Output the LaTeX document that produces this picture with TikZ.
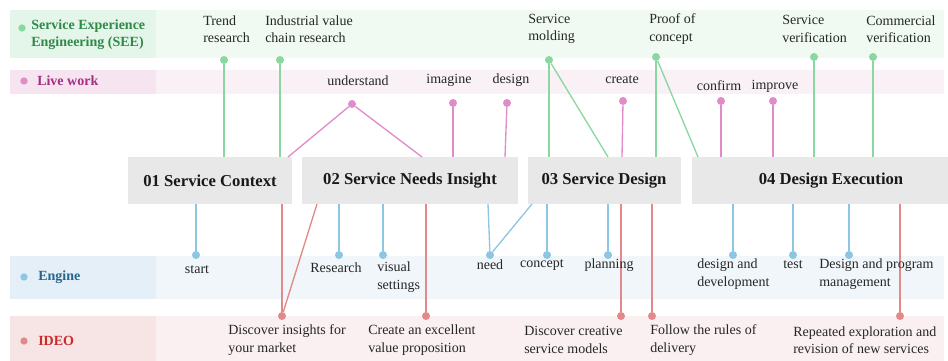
\documentclass[tikz,border=0pt]{standalone}
\usepackage{fontspec}
\setmainfont{Liberation Serif}
\definecolor{seeL}{HTML}{88D8A0}
\definecolor{liveL}{HTML}{E08CC8}
\definecolor{engL}{HTML}{8CC6E2}
\definecolor{ideoL}{HTML}{E28A8A}
\definecolor{seeA}{HTML}{E4F5EA}\definecolor{seeB}{HTML}{F0FAF3}
\definecolor{liveA}{HTML}{F6E4F0}\definecolor{liveB}{HTML}{FAF1F7}
\definecolor{engA}{HTML}{E4EFF8}\definecolor{engB}{HTML}{F0F6FA}
\definecolor{ideoA}{HTML}{F7E4E5}\definecolor{ideoB}{HTML}{FAF0F1}
\definecolor{seeT}{HTML}{2F8A48}
\definecolor{liveT}{HTML}{A82C84}
\definecolor{engT}{HTML}{24668C}
\definecolor{ideoT}{HTML}{CC2B2B}
\definecolor{boxF}{HTML}{E8E8E8}
\begin{document}
\begin{tikzpicture}[x=0.75pt,y=-0.75pt,
  txt/.style={inner sep=0pt,font=\fontsize{10.5}{13}\selectfont,text=black!85,align=left},
  lab/.style={inner sep=0pt,font=\fontsize{10.5}{13}\selectfont\bfseries,align=left,anchor=west},
  stage/.style={fill=boxF,draw=none},
  stagetxt/.style={inner sep=0pt,font=\fontsize{12.5}{15}\selectfont\bfseries,text=black!90},
  dotn/.style={circle,inner sep=0pt,minimum size=6pt},
  conn/.style={line width=1pt}]
\useasboundingbox (0,0) rectangle (948,360);
% bands
\fill[seeA] (10,10) rectangle (156,58); \fill[seeB] (156,10) rectangle (944,58);
\fill[liveA] (10,70) rectangle (156,94); \fill[liveB] (156,70) rectangle (944,94);
\fill[engA] (10,256) rectangle (156,299); \fill[engB] (156,256) rectangle (944,299);
\fill[ideoA] (10,316) rectangle (156,362); \fill[ideoB] (156,316) rectangle (944,362);
% row labels
\node[dotn,fill=seeL,minimum size=5.5pt] (dsee) at (22,28) {};
\node[lab,text=seeT] (lsee) at (31,34.5) {Service Experience\\Engineering (SEE)};
\node[dotn,fill=liveL,minimum size=5.5pt] (dlive) at (24,81) {};
\node[lab,text=liveT] (llive) at (37,81) {Live work};
\node[dotn,fill=engL,minimum size=5.5pt] (deng) at (24,277) {};
\node[lab,text=engT] (leng) at (38,277) {Engine};
\node[dotn,fill=ideoL,minimum size=5.5pt] (dideo) at (24,341) {};
\node[lab,text=ideoT] (lideo) at (38,341) {IDEO};
% stage boxes
\fill[stage] (128,157) rectangle (292,204);
\fill[stage] (302,157) rectangle (518,204);
\fill[stage] (528,157) rectangle (681,204);
\fill[stage] (692,157) rectangle (948,204);
\node[stagetxt] (s1) at (210,181) {01 Service Context};
\node[stagetxt] (s2) at (410,181) {02 Service Needs Insight};
\node[stagetxt] (s3) at (604,181) {03 Service Design};
\node[stagetxt] (s4) at (831,181) {04 Design Execution};
% coordinates on box edges
\foreach \n/\x in {a1/224,a2/280,a3/549,a4/608,a5/656,a6/698,a7/814,a8/873,
  p1/288,p2/422,p3/453,p4/505,p5/622,p6/721,p7/773}{\coordinate (t\n) at (\x,157);}
\foreach \n/\x in {e1/196,e2/339,e3/383,e4/488,e5/532,e6/547,e7/608,e8/733,e9/793,e10/849,
  r1/282,r2/317,r3/426,r4/621,r5/652,r6/900}{\coordinate (b\n) at (\x,204);}
% SEE dots
\foreach \n/\x/\y in {a1/224/60,a2/280/60,a3/549/60,a5/656/57,a7/814/57,a8/873/57}{\node[dotn,fill=seeL] (g\n) at (\x,\y) {};}
\draw[conn,seeL] (ga1) -- (ta1);
\draw[conn,seeL] (ga2) -- (ta2);
\draw[conn,seeL] (ga3) -- (ta3);
\draw[conn,seeL] (ga3) -- (ta4);
\draw[conn,seeL] (ga5) -- (ta5);
\draw[conn,seeL] (ga5) -- (ta6);
\draw[conn,seeL] (ga7) -- (ta7);
\draw[conn,seeL] (ga8) -- (ta8);
% Live work dots
\node[dotn,fill=liveL] (lu) at (352,104) {};
\node[dotn,fill=liveL] (li) at (453,103) {};
\node[dotn,fill=liveL] (ld) at (507,103) {};
\node[dotn,fill=liveL] (lc) at (623,101) {};
\node[dotn,fill=liveL] (lf) at (721,101) {};
\node[dotn,fill=liveL] (lm) at (773,101) {};
\draw[conn,liveL] (lu) -- (tp1);
\draw[conn,liveL] (lu) -- (tp2);
\draw[conn,liveL] (li) -- (tp3);
\draw[conn,liveL] (ld) -- (tp4);
\draw[conn,liveL] (lc) -- (tp5);
\draw[conn,liveL] (lf) -- (tp6);
\draw[conn,liveL] (lm) -- (tp7);
% Engine dots
\foreach \n/\x in {e1/196,e2/339,e3/383,e4/490,e6/547,e7/608,e8/733,e9/793,e10/849}{\node[dotn,fill=engL] (n\n) at (\x,255) {};}
\draw[conn,engL] (ne1) -- (be1);
\draw[conn,engL] (ne2) -- (be2);
\draw[conn,engL] (ne3) -- (be3);
\draw[conn,engL] (ne4) -- (be4);
\draw[conn,engL] (ne4) -- (be5);
\draw[conn,engL] (ne6) -- (be6);
\draw[conn,engL] (ne7) -- (be7);
\draw[conn,engL] (ne8) -- (be8);
\draw[conn,engL] (ne9) -- (be9);
\draw[conn,engL] (ne10) -- (be10);
% IDEO dots
\foreach \n/\x in {r1/282,r3/426,r4/621,r5/652,r6/900}{\node[dotn,fill=ideoL] (i\n) at (\x,316) {};}
\draw[conn,ideoL] (ir1) -- (br1);
\draw[conn,ideoL] (ir1) -- (br2);
\draw[conn,ideoL] (ir3) -- (br3);
\draw[conn,ideoL] (ir4) -- (br4);
\draw[conn,ideoL] (ir5) -- (br5);
\draw[conn,ideoL] (ir6) -- (br6);
% SEE texts
\node[txt,anchor=west] (x1) at (203,29) {Trend\\research};
\node[txt,anchor=west] (x2) at (265,29) {Industrial value\\chain research};
\node[txt,anchor=west] (x3) at (528,29) {Service\\molding};
\node[txt,anchor=west] (x4) at (649,29) {Proof of\\concept};
\node[txt,anchor=west] (x5) at (782,29) {Service\\verification};
\node[txt,anchor=west] (x6) at (866,29) {Commercial\\verification};
% Live work texts
\node[txt] (y1) at (358,81) {understand};
\node[txt] (y2) at (449,80) {imagine};
\node[txt] (y3) at (511,80) {design};
\node[txt] (y4) at (622,80) {create};
\node[txt] (y5) at (719,86) {confirm};
\node[txt] (y6) at (775,86) {improve};
% Engine texts
\node[txt] (z1) at (197,270) {start};
\node[txt] (z2) at (336,268) {Research};
\node[txt,anchor=west] (z3) at (377,277) {visual\\settings};
\node[txt] (z4) at (490,265) {need};
\node[txt] (z5) at (542,265) {concept};
\node[txt] (z6) at (609,265) {planning};
\node[txt,anchor=west] (z7) at (697,274) {design and\\development};
\node[txt] (z8) at (793,265) {test};
\node[txt,anchor=west] (z9) at (819,274) {Design and program\\management};
% IDEO texts
\node[txt,anchor=west] (w1) at (228,340) {Discover insights for\\your market};
\node[txt,anchor=west] (w2) at (368,340) {Create an excellent\\value proposition};
\node[txt,anchor=west] (w3) at (524,340) {Discover creative\\service models};
\node[txt,anchor=west] (w4) at (650,340) {Follow the rules of\\delivery};
\node[txt,anchor=west] (w5) at (793,340) {Repeated exploration and\\revision of new services};
\end{tikzpicture}
\end{document}
